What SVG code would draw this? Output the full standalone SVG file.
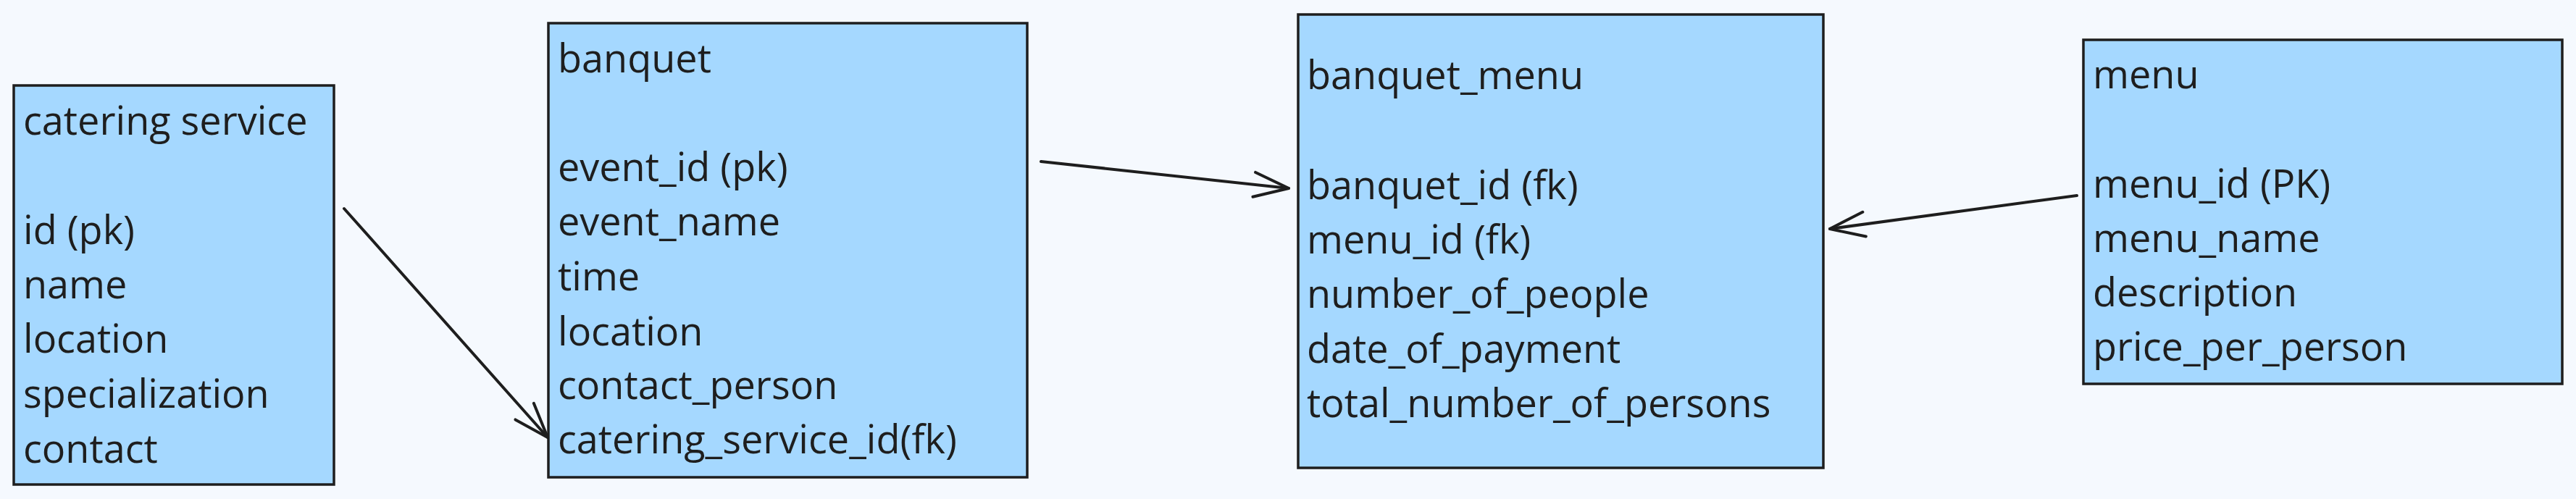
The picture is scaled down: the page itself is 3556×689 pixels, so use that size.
<svg xmlns="http://www.w3.org/2000/svg" width="3556" height="689" viewBox="0 0 3556 689">
<defs>
<style>
.box{fill:#a5d8ff;stroke:#1e1e1e;stroke-width:3.5}
.t{font-family:"Open Sans","Noto Sans",sans-serif;font-size:54px;fill:#1e1e1e}
.edge{fill:none;stroke:#1e1e1e;stroke-width:4;stroke-linecap:round;stroke-linejoin:round}
</style>
<marker id="arr" markerUnits="userSpaceOnUse" markerWidth="120" markerHeight="120" viewBox="-60 -60 120 120" refX="0" refY="0" orient="auto" overflow="visible">
<path d="M-48,-17 L0,0 L-48,17" fill="none" stroke="#1e1e1e" stroke-width="4" stroke-linecap="round" stroke-linejoin="round"/>
</marker>
</defs>
<rect width="3556" height="689" fill="#f5f9fe"/>
<g id="catering_service">
<rect class="box" x="19" y="118" width="442" height="551"/>
<text class="t" x="32" y="186">catering service</text>
<text class="t" x="32" y="337">id (pk)</text>
<text class="t" x="32" y="412">name</text>
<text class="t" x="32" y="487">location</text>
<text class="t" x="32" y="563">specialization</text>
<text class="t" x="32" y="639">contact</text>
</g>
<g id="banquet">
<rect class="box" x="757" y="32" width="661" height="627"/>
<text class="t" x="770" y="100">banquet</text>
<text class="t" x="770" y="250">event_id (pk)</text>
<text class="t" x="770" y="325">event_name</text>
<text class="t" x="770" y="401">time</text>
<text class="t" x="770" y="477">location</text>
<text class="t" x="770" y="551">contact_person</text>
<text class="t" x="770" y="626">catering_service_id(fk)</text>
</g>
<g id="banquet_menu">
<rect class="box" x="1792" y="20" width="725" height="626"/>
<text class="t" x="1804" y="123">banquet_menu</text>
<text class="t" x="1804" y="275">banquet_id (fk)</text>
<text class="t" x="1804" y="350">menu_id (fk)</text>
<text class="t" x="1804" y="425">number_of_people</text>
<text class="t" x="1804" y="501">date_of_payment</text>
<text class="t" x="1804" y="576">total_number_of_persons</text>
</g>
<g id="menu">
<rect class="box" x="2876" y="55" width="661" height="475"/>
<text class="t" x="2889" y="122">menu</text>
<text class="t" x="2889" y="273">menu_id (PK)</text>
<text class="t" x="2889" y="348">menu_name</text>
<text class="t" x="2889" y="423">description</text>
<text class="t" x="2889" y="498">price_per_person</text>
</g>
<g id="connectors">
<path class="edge" d="M475,288 L756,604" marker-end="url(#arr)"/>
<path class="edge" d="M1437,223 L1779,260" marker-end="url(#arr)"/>
<path class="edge" d="M2867,270 L2526,316" marker-end="url(#arr)"/>
</g>
</svg>
